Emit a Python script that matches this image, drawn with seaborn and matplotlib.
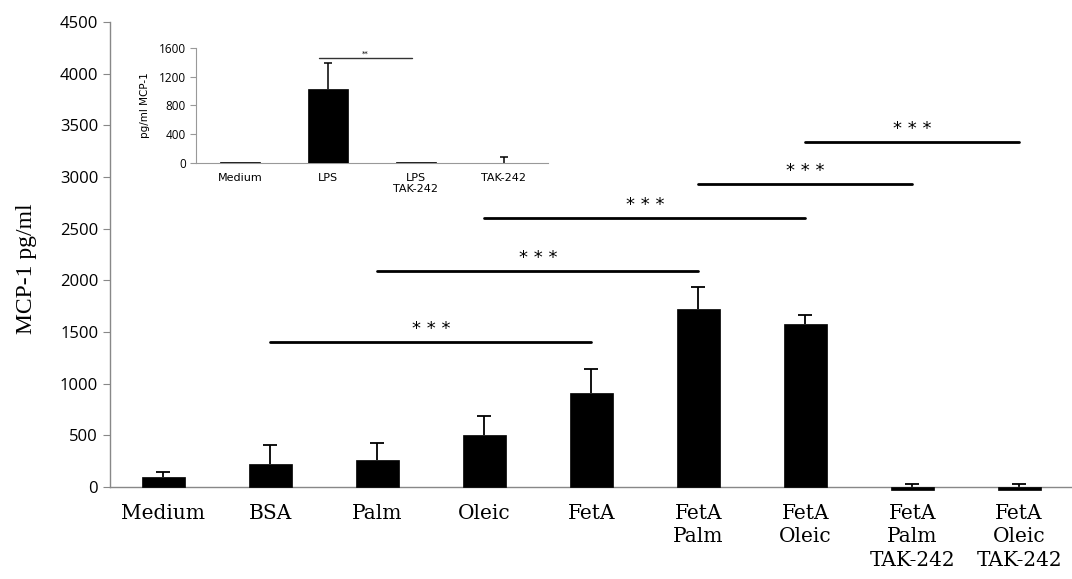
import numpy as np
import pandas as pd
import matplotlib.pyplot as plt
import seaborn as sns

# Main chart data
groups = ["Medium", "BSA", "Palm", "Oleic", "FetA", "FetA\nPalm", "FetA\nOleic",
          "FetA\nPalm\nTAK-242", "FetA\nOleic\nTAK-242"]
mcp1 = [100, 225, 265, 500, 910, 1720, 1580, -25, -25]
mcp1_err = [45, 180, 165, 190, 235, 215, 85, 55, 55]

# significance brackets: (start index, end index, height)
sig_start = [1, 2, 3, 5, 6]
sig_end = [4, 5, 6, 7, 8]
sig_height = [1400, 2090, 2600, 2930, 3340]

# Inset data
inset_groups = ["Medium", "LPS", "LPS\nTAK-242", "TAK-242"]
inset_vals = [20, 1030, 12, 0]
inset_err = [0, 355, 0, 90]

sns.set_style("white")
plt.rcParams['font.family'] = ['Open Sans', 'DejaVu Sans']
plt.rcParams['text.color'] = 'black'
plt.rcParams['xtick.color'] = 'black'
plt.rcParams['ytick.color'] = 'black'
plt.rcParams['axes.labelcolor'] = 'black'


def up_errors(a, x, vals, errs, cap, lw):
    tops = [v + e for v, e in zip(vals, errs)]
    for xi, v, t, e in zip(x, vals, tops, errs):
        if e > 0:
            a.plot([xi, xi], [max(v, 0), t], color="black", lw=lw, solid_capstyle="butt")
    a.plot([xi for xi, e in zip(x, errs) if e > 0], [t for t, e in zip(tops, errs) if e > 0],
           ls="none", marker="_", ms=cap, mew=lw, color="black")


fig = plt.figure(figsize=(10.72, 5.79), dpi=100)
ax = fig.add_axes([0.1026, 0.159, 0.898, 0.803])

df = pd.DataFrame({"group": groups, "value": mcp1})
sns.barplot(data=df, x="group", y="value", color="black", width=0.4,
            saturation=1, errorbar=None, edgecolor="black", linewidth=0.5, ax=ax)
for p in ax.patches:
    p.set_clip_on(False)
    p.set_zorder(3)
xs = np.arange(len(groups))
up_errors(ax, xs, mcp1, mcp1_err, 10, 1.3)

for s, e, h in zip(sig_start, sig_end, sig_height):
    ax.plot([s, e], [h, h], color="black", lw=2)
    ax.text((s + e) / 2, h + 40, "* * *", ha="center", va="bottom",
            fontsize=13, family="DejaVu Sans")

ax.set_xlim(-0.5, len(groups) - 0.5)
ax.set_ylim(0, 4500)
ax.set_yticks(range(0, 4501, 500))
ax.set_xlabel("")
ax.set_ylabel("MCP-1 pg/ml", family="Liberation Serif", fontsize=17)
ax.yaxis.set_label_coords(-0.076, 0.47)
ax.set_xticks(xs)
ax.set_xticklabels(groups, family="DejaVu Serif", fontsize=14.5, linespacing=1.3)
ax.set_xticks(np.arange(-0.5, len(groups), 1), minor=True)
ax.tick_params(axis="x", which="major", length=0, pad=12)
ax.tick_params(axis="x", which="minor", length=7, color="#888888", direction="out")
ax.tick_params(axis="y", length=5, color="#888888", labelsize=12, direction="out", left=True)
for side in ["top", "right"]:
    ax.spines[side].set_visible(False)
for side in ["left", "bottom"]:
    ax.spines[side].set_color("#888888")
    ax.spines[side].set_linewidth(1)

# Inset
ins = fig.add_axes([0.183, 0.7185, 0.328, 0.199])
idf = pd.DataFrame({"group": inset_groups, "value": inset_vals})
sns.barplot(data=idf, x="group", y="value", color="black", width=0.45,
            saturation=1, errorbar=None, edgecolor="black", linewidth=0.5, ax=ins)
for p in ins.patches:
    p.set_zorder(3)
ixs = np.arange(len(inset_groups))
up_errors(ins, ixs, inset_vals, inset_err, 6, 1.1)
ins.plot([0.9, 1.95], [1460, 1460], color="#333333", lw=1)
ins.text(1.42, 1470, "**", ha="center", va="bottom", fontsize=5, family="DejaVu Sans")
ins.set_xlim(-0.5, len(inset_groups) - 0.5)
ins.set_ylim(0, 1600)
ins.set_yticks(range(0, 1601, 400))
ins.set_xlabel("")
ins.set_ylabel("pg/ml MCP-1", fontsize=7.5, family="DejaVu Sans", labelpad=6)
ins.set_xticks(ixs)
ins.set_xticklabels(inset_groups, fontsize=8, family="DejaVu Sans")
ins.set_xticks(np.arange(-0.5, len(inset_groups), 1), minor=True)
ins.tick_params(axis="x", which="major", length=0, pad=7)
ins.tick_params(axis="x", which="minor", length=4, color="#999999", direction="out")
ins.tick_params(axis="y", length=4, color="#999999", labelsize=8.5, direction="out", left=True)
ins.patch.set_alpha(0)
for side in ["top", "right"]:
    ins.spines[side].set_visible(False)
for side in ["left", "bottom"]:
    ins.spines[side].set_color("#999999")
    ins.spines[side].set_linewidth(0.8)

fig.savefig("out.png", dpi=100)
